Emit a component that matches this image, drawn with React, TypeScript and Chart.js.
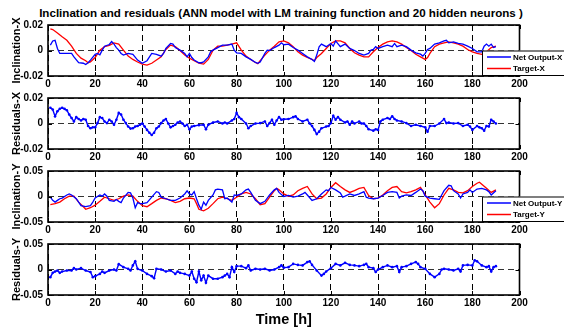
import React, { useEffect, useRef } from "react";
import { Chart, registerables } from "chart.js";

Chart.register(...registerables);

const FONT = "'Liberation Sans', Arial, Helvetica, sans-serif";

const TITLE = "Inclination and residuals (ANN model with LM training function and 20 hidden neurons )";
const X_LABEL = "Time [h]";
const X_TICKS = [0, 20, 40, 60, 80, 100, 120, 140, 160, 180, 200];
const Y_TICKS_X = [-0.02, 0, 0.02];
const Y_TICKS_Y = [-0.05, 0, 0.05];

// Panel 1: Inclination-X
const H_NET_X = [1, 2, 3, 4, 5, 10, 11, 13, 15, 16, 17, 18, 20, 21, 22, 23, 24, 26, 27, 28, 29, 30, 31, 32, 34, 36, 38, 40, 42, 44, 46, 48, 49, 50, 52, 53, 54, 56, 58, 59, 60, 61, 62, 64, 65, 66, 68, 69, 70, 72, 74, 76, 78, 79, 80, 82, 84, 86, 88, 89, 90, 92, 93, 94, 96, 98, 99, 100, 102, 104, 106, 107, 108, 110, 112, 113, 114, 115, 116, 118, 120, 121, 122, 124, 126, 128, 130, 132, 134, 136, 137, 138, 139, 140, 142, 144, 146, 147, 148, 150, 152, 154, 156, 158, 159, 160, 161, 162, 164, 166, 168, 169, 170, 172, 174, 176, 178, 180, 182, 184, 185, 186, 187, 188, 189, 190];
const NET_X = [0.0042, 0.0075, 0.008, 0.0016, -0.0023, -0.0023, -0.005, -0.0096, -0.01, -0.011, -0.0096, -0.0075, -0.003, -0.0023, -0.0034, 0.0003, 0.0034, 0.0047, 0.007, 0.005, 0.0023, 0.0003, -0.0023, -0.0036, -0.0023, -0.003, -0.0075, -0.01, -0.008, -0.0023, -0.003, -0.0044, -0.0023, 0.0016, 0.0055, 0.005, 0.0023, 0.0003, -0.0023, -0.005, -0.0023, -0.0055, -0.0075, -0.0096, -0.0096, -0.009, -0.005, -0.001, 0.0003, 0.0023, 0.0042, 0.0042, 0.005, 0.0003, -0.0018, -0.0023, -0.005, -0.007, -0.0094, -0.01, -0.009, -0.0023, 0.0003, 0, 0.0023, 0.0042, 0.006, 0.0045, 0.005, 0.0023, 0.0003, -0.001, -0.0023, -0.005, -0.007, -0.0086, -0.0036, 0.0029, 0.005, 0.003, 0.0055, 0.0034, 0.0075, 0.003, 0.005, 0.0016, 0, -0.0023, -0.0036, -0.0023, 0.0003, 0.0008, 0.003, 0.0016, 0.003, 0.0042, 0.003, 0.0055, 0.003, 0.0042, 0.003, 0.0003, -0.0018, -0.0029, -0.0044, -0.0023, 0.0008, 0.0016, 0.005, 0.006, 0.0075, 0.008, 0.006, 0.0068, 0.0055, 0.005, 0.0034, 0.0016, -0.001, -0.001, 0.0034, 0.005, 0.0034, 0.005, 0.0023, 0.003];
const H_TGT_X = [1, 2, 4, 6, 8, 10, 12, 14, 16, 17, 18, 20, 22, 24, 26, 28, 30, 32, 34, 36, 38, 40, 42, 44, 46, 48, 50, 52, 54, 56, 58, 60, 62, 64, 66, 68, 70, 72, 74, 76, 78, 80, 82, 84, 86, 88, 89, 90, 92, 94, 96, 98, 100, 102, 104, 106, 108, 110, 112, 113, 114, 116, 118, 120, 122, 124, 126, 128, 130, 132, 134, 136, 138, 140, 142, 144, 146, 148, 150, 152, 154, 156, 158, 160, 161, 162, 164, 166, 168, 170, 172, 174, 176, 178, 180, 182, 184, 186, 188, 190];
const TGT_X = [0.017, 0.0164, 0.0138, 0.0107, 0.008, 0.0034, -0.0023, -0.006, -0.008, -0.0096, -0.009, -0.0055, 0.0003, 0.003, 0.004, 0.006, 0.005, 0.0003, -0.0044, -0.007, -0.009, -0.0107, -0.0114, -0.01, -0.0075, -0.005, 0.0008, 0.0042, 0.003, 0, -0.0036, -0.006, -0.008, -0.01, -0.0107, -0.007, 0.0003, 0.0034, 0.0034, 0.0042, 0.005, 0.006, 0.0003, -0.0044, -0.007, -0.0094, -0.0104, -0.008, -0.0036, 0.0003, 0.0034, 0.0068, 0.0075, 0.006, 0.003, -0.001, -0.0036, -0.0055, -0.007, -0.008, -0.0055, -0.0023, 0.0016, 0.0055, 0.0075, 0.0075, 0.006, 0.0016, -0.0018, -0.0036, -0.005, -0.005, -0.001, 0.0023, 0.005, 0.0068, 0.0075, 0.0068, 0.005, 0.0023, 0, -0.0029, -0.005, -0.007, -0.0055, -0.0023, 0.003, 0.005, 0.006, 0.0068, 0.006, 0.005, 0.0034, 0.0008, -0.001, -0.0023, -0.003, -0.001, 0.0023, 0.0034];

// Panel 2: Residuals-X
const H_RES_X = [1, 2, 3, 4, 5, 6, 7, 8, 9, 10, 11, 12, 13, 14, 15, 16, 17, 18, 19, 20, 21, 22, 23, 24, 25, 26, 27, 28, 29, 30, 31, 32, 33, 34, 35, 36, 37, 38, 39, 40, 41, 42, 43, 44, 45, 46, 47, 48, 49, 50, 51, 52, 53, 54, 55, 56, 57, 58, 59, 60, 61, 62, 64, 66, 67, 68, 70, 72, 74, 75, 76, 78, 79, 80, 81, 82, 84, 85, 86, 88, 90, 92, 93, 94, 95, 96, 97, 98, 99, 100, 102, 104, 105, 106, 108, 110, 111, 112, 113, 114, 115, 116, 118, 119, 120, 121, 122, 123, 124, 126, 127, 128, 129, 130, 132, 133, 134, 135, 136, 138, 139, 140, 141, 142, 144, 145, 146, 147, 148, 150, 152, 154, 156, 158, 160, 161, 162, 164, 166, 168, 169, 170, 172, 174, 176, 178, 179, 180, 182, 183, 184, 185, 186, 187, 188, 189, 190];
const RES_X = [0.0123, 0.011, 0.0056, 0.0096, 0.0115, 0.0123, 0.0115, 0.0104, 0.007, 0.0043, 0.0016, 0.005, 0.0035, 0.0024, 0.0035, 0.003, -0.002, -0.0037, -0.003, -0.003, 0.0003, 0.005, 0.0043, 0.0016, 0.0003, 0.003, 0.0016, -0.001, 0.003, 0.0083, 0.007, 0.003, 0.0003, -0.0024, -0.004, -0.0037, -0.0024, -0.002, -0.001, 0, -0.0024, -0.005, -0.0072, -0.009, -0.0072, -0.0037, -0.0024, 0.0003, 0.0024, 0.0035, 0, -0.003, -0.002, -0.001, 0.0008, 0.0016, 0, -0.002, -0.001, -0.0045, -0.0024, -0.002, -0.0013, -0.001, -0.0045, -0.001, 0.0008, 0.0016, 0, 0.0008, 0, 0.0024, 0.0035, 0.0083, 0.005, 0.0035, 0, -0.0037, -0.002, 0, 0.0003, 0.0016, -0.002, 0.0003, 0.003, -0.001, 0.0024, 0.005, 0.003, 0.0033, 0.0035, 0.005, 0.0056, 0.0035, 0.0016, 0.003, 0, -0.002, -0.005, -0.0083, -0.0064, -0.0037, -0.0024, -0.002, 0.0003, 0.0061, 0.003, 0.005, 0.003, 0.0008, 0.0016, -0.001, 0.0016, 0, 0.0016, 0, 0, -0.002, -0.0045, -0.0056, -0.0045, -0.005, 0.0016, 0.003, 0.0043, 0.0035, 0.0056, 0.0035, 0.0024, 0.0016, 0.0003, -0.002, -0.001, -0.002, -0.003, -0.0064, -0.002, -0.002, 0, 0.0035, 0.0003, 0.0008, 0, 0.0003, -0.002, -0.001, -0.0024, -0.005, -0.002, -0.003, -0.0037, -0.0056, -0.002, -0.0024, 0.003, 0.0016, 0];

// Panel 3: Inclination-Y
const H_NET_Y = [1, 2, 3, 4, 5, 6, 8, 9, 10, 12, 14, 16, 18, 19, 20, 22, 23, 24, 25, 26, 28, 29, 30, 31, 32, 34, 35, 36, 37, 38, 39, 40, 42, 44, 46, 47, 48, 50, 52, 54, 56, 58, 59, 60, 61, 62, 63, 64, 65, 66, 67, 68, 70, 71, 72, 74, 75, 76, 78, 79, 80, 82, 84, 85, 86, 88, 90, 92, 94, 96, 97, 98, 100, 102, 104, 106, 108, 109, 110, 112, 114, 116, 118, 119, 120, 122, 124, 125, 126, 128, 130, 132, 134, 135, 136, 138, 140, 142, 144, 146, 148, 149, 150, 152, 154, 156, 158, 159, 160, 162, 164, 166, 167, 168, 170, 171, 172, 174, 175, 176, 178, 179, 180, 182, 184, 186, 187, 188, 190];
const NET_Y = [-0.0013, -0.0076, -0.011, -0.0076, -0.0044, -0.003, 0.003, 0.005, 0.003, -0.0044, -0.018, -0.02, -0.018, -0.011, -0.003, 0.003, 0.0006, 0.005, 0.0006, -0.0076, -0.0095, -0.006, -0.0095, -0.012, -0.003, 0.008, 0.007, -0.003, -0.022, -0.012, -0.014, -0.014, -0.012, -0.0013, 0.0095, 0.008, -0.0013, -0.0044, -0.0076, -0.0076, -0.003, 0.005, 0.011, 0.005, 0.003, 0.0095, -0.0044, -0.017, -0.025, -0.011, -0.017, -0.0076, 0.003, 0.013, 0.0146, 0.013, -0.0044, -0.003, -0.011, 0.003, 0.002, 0.005, 0.013, 0.0146, 0.008, -0.0076, -0.014, -0.0095, 0.003, 0.013, 0.016, 0.008, 0, 0.002, -0.0013, 0.0006, 0.005, 0.008, 0.003, -0.0076, -0.0044, 0.005, 0.013, 0.0114, 0.0177, 0.013, 0.007, -0.0013, 0.0006, 0.005, 0.002, 0.005, 0.0095, -0.0013, -0.003, -0.0044, -0.003, 0.002, 0.008, 0.0095, 0.008, -0.003, 0.0006, 0.003, 0.002, 0.008, 0.0146, 0.0114, 0.0006, -0.003, -0.0044, -0.0057, 0.003, 0.0114, 0.022, 0.021, 0.0114, 0.005, -0.003, 0.005, 0.008, 0.013, 0.008, 0.0146, 0.016, 0.013, 0.0095, 0.003, 0.0114];
const H_TGT_Y = [1, 3, 5, 7, 9, 11, 13, 15, 16, 18, 20, 22, 24, 26, 28, 30, 32, 34, 36, 38, 40, 42, 44, 46, 48, 50, 52, 54, 56, 58, 60, 62, 63, 64, 66, 68, 70, 72, 74, 76, 78, 80, 82, 84, 86, 88, 90, 92, 94, 96, 97, 98, 100, 102, 104, 106, 108, 110, 112, 114, 116, 118, 120, 122, 124, 126, 128, 130, 132, 134, 136, 138, 140, 142, 144, 146, 148, 150, 152, 154, 156, 158, 160, 162, 164, 166, 168, 170, 172, 174, 176, 178, 180, 182, 183, 184, 186, 188, 190];
const TGT_Y = [-0.016, -0.014, -0.011, -0.0044, 0.0006, 0.0006, -0.011, -0.02, -0.025, -0.022, -0.017, -0.0095, -0.0013, -0.0044, -0.0076, -0.0044, 0.0006, 0.003, 0.0006, -0.0095, -0.018, -0.02, -0.014, -0.0076, -0.003, -0.0044, -0.0076, -0.012, -0.0095, -0.0044, -0.003, -0.0044, -0.014, -0.025, -0.028, -0.023, -0.014, -0.0044, -0.0013, -0.0044, -0.0076, -0.0013, 0.005, 0.008, 0.005, -0.0044, -0.016, -0.014, -0.0013, 0.0114, 0.016, 0.013, 0.005, 0.0006, 0.003, 0.0114, 0.016, 0.0196, 0.005, -0.0044, -0.003, 0.005, 0.0177, 0.027, 0.0196, 0.013, 0.008, 0.0114, 0.016, 0.0177, 0.002, -0.0044, -0.003, 0.003, 0.0114, 0.0177, 0.0196, 0.0095, 0.007, 0.0095, 0.013, 0.0177, 0.003, -0.011, -0.022, -0.014, 0.003, 0.016, 0.013, 0.008, 0.007, 0.0114, 0.0196, 0.026, 0.028, 0.024, 0.016, 0.008, 0.013];

// Panel 4: Residuals-Y
const H_RES_Y = [1, 2, 3, 4, 5, 6, 8, 10, 11, 12, 14, 16, 18, 19, 20, 22, 23, 24, 26, 28, 29, 30, 32, 34, 35, 36, 37, 38, 40, 42, 44, 45, 46, 48, 50, 52, 54, 55, 56, 58, 60, 61, 62, 63, 64, 65, 66, 67, 68, 70, 72, 74, 75, 76, 77, 78, 79, 80, 82, 84, 85, 86, 88, 90, 92, 94, 96, 98, 99, 100, 102, 104, 106, 108, 110, 111, 112, 114, 116, 117, 118, 120, 122, 124, 126, 128, 130, 132, 134, 135, 136, 138, 139, 140, 142, 144, 146, 148, 149, 150, 152, 154, 156, 157, 158, 160, 162, 164, 166, 167, 168, 170, 172, 174, 175, 176, 178, 180, 181, 182, 184, 186, 187, 188, 189, 190];
const RES_Y = [-0.015, -0.0066, -0.004, -0.002, -0.0066, -0.004, -0.002, -0.002, 0.0026, 0, 0.0026, -0.002, -0.005, -0.015, -0.013, -0.0086, -0.004, -0.0066, -0.002, 0, -0.002, 0.0105, 0.0046, 0.0013, -0.002, 0.008, 0.016, 0.0013, -0.002, -0.0086, -0.013, -0.017, 0.0013, 0, -0.004, -0.002, -0.0086, -0.004, -0.0066, -0.0086, -0.012, -0.004, -0.018, -0.025, -0.004, -0.021, -0.012, -0.026, -0.012, -0.018, -0.018, -0.015, -0.012, -0.0086, -0.015, 0.0046, -0.005, 0.0066, 0.0066, 0.0026, 0.008, -0.002, 0.0013, 0, 0.0013, -0.002, 0, 0.0046, 0.008, 0.0036, 0.0046, 0.011, 0.009, 0.008, 0.0145, 0.016, 0.009, -0.002, -0.012, -0.0086, -0.004, 0.0026, 0.011, 0.008, 0.013, 0.009, 0.008, 0.0066, 0.009, 0.011, 0.0046, 0.0026, -0.005, 0, 0.0046, 0.008, 0.0046, 0.0066, -0.005, 0.0046, 0.0066, 0.011, 0.0145, 0.011, 0.0046, 0.0013, -0.0086, -0.015, -0.0086, 0, 0.0013, 0, -0.002, 0.0013, -0.004, 0.008, 0.009, 0.008, 0.018, 0.016, 0.008, 0.0046, 0.0066, -0.004, 0.0046, 0.0066];

const BLUE = "#0000ff";
const RED = "#ff0000";
const W = 564;
const H = 331;
const PLOT_LEFT = 48;
const PLOT_RIGHT = 519.5;
const X_AXIS_H = 16;

type Series = { name: string; hours: number[]; values: number[]; color: string; marker: boolean };
type Panel = { top: number; bottom: number; yTicks: number[]; yLabel: string; series: Series[]; legend: boolean };

const PANELS: Panel[] = [
  { top: 25, bottom: 76, yTicks: Y_TICKS_X, yLabel: "Inclination-X", legend: true, series: [
    { name: "Net Output-X", hours: H_NET_X, values: NET_X, color: BLUE, marker: false },
    { name: "Target-X", hours: H_TGT_X, values: TGT_X, color: RED, marker: false },
  ] },
  { top: 98, bottom: 149, yTicks: Y_TICKS_X, yLabel: "Residuals-X", legend: false, series: [
    { name: "Residuals-X", hours: H_RES_X, values: RES_X, color: BLUE, marker: true },
  ] },
  { top: 171, bottom: 222, yTicks: Y_TICKS_Y, yLabel: "Inclination-Y", legend: true, series: [
    { name: "Net Output-Y", hours: H_NET_Y, values: NET_Y, color: BLUE, marker: false },
    { name: "Target-Y", hours: H_TGT_Y, values: TGT_Y, color: RED, marker: false },
  ] },
  { top: 244, bottom: 295, yTicks: Y_TICKS_Y, yLabel: "Residuals-Y", legend: false, series: [
    { name: "Residuals-Y", hours: H_RES_Y, values: RES_Y, color: BLUE, marker: true },
  ] },
];

function fmt(v: number) {
  if (v === 0) return "0";
  return v.toFixed(2);
}

function makeFramePlugin(panel: Panel, idx: number) {
  return {
    id: "frame" + idx,
    afterDatasetsDraw(chart: any) {
      const { ctx, chartArea: a } = chart;
      const xs = chart.scales.x;
      const ys = chart.scales.y;
      ctx.save();
      ctx.setLineDash([]);
      ctx.strokeStyle = "#000";
      ctx.lineWidth = 1;
      for (const t of X_TICKS) {
        const px = Math.round(xs.getPixelForValue(t)) + 0.5;
        ctx.beginPath();
        ctx.moveTo(px, a.bottom);
        ctx.lineTo(px, a.bottom - 4);
        ctx.moveTo(px, a.top);
        ctx.lineTo(px, a.top + 4);
        ctx.stroke();
      }
      for (const t of panel.yTicks) {
        const py = Math.round(ys.getPixelForValue(t)) + 0.5;
        ctx.beginPath();
        ctx.moveTo(a.left, py);
        ctx.lineTo(a.left + 4, py);
        ctx.moveTo(a.right, py);
        ctx.lineTo(a.right - 4, py);
        ctx.stroke();
      }
      ctx.lineWidth = 1.6;
      ctx.strokeRect(a.left, a.top, a.right - a.left, a.bottom - a.top);

      if (panel.legend) {
        const bx = 482;
        const bh = 24.5;
        const by = a.bottom - 1 - bh;
        ctx.fillStyle = "#fff";
        ctx.fillRect(bx, by, 90, bh);
        ctx.lineWidth = 1;
        ctx.strokeStyle = "#000";
        ctx.strokeRect(bx + 0.5, by + 0.5, 90, bh);
        ctx.font = "bold 8px " + FONT;
        ctx.textBaseline = "middle";
        ctx.textAlign = "left";
        panel.series.forEach((s, i) => {
          const ry = by + 6.5 + i * 11.5;
          ctx.strokeStyle = s.color;
          ctx.lineWidth = 1.5;
          ctx.beginPath();
          ctx.moveTo(487, ry);
          ctx.lineTo(511, ry);
          ctx.stroke();
          ctx.fillStyle = "#000";
          ctx.fillText(s.name, 513, ry + 0.5);
        });
      }
      ctx.restore();
    },
  };
}

function PanelChart({ panel, idx }: { panel: Panel; idx: number }) {
  const ref = useRef<HTMLCanvasElement | null>(null);
  useEffect(() => {
    if (!ref.current) return;
    const yMax = panel.yTicks[panel.yTicks.length - 1];
    const yMin = panel.yTicks[0];
    const chart = new Chart(ref.current, {
      type: "line",
      data: {
        datasets: panel.series.map((s) => ({
          label: s.name,
          data: s.hours.map((h, i) => ({ x: h, y: s.values[i] })),
          borderColor: s.color,
          backgroundColor: s.color,
          borderWidth: s.marker ? 1.4 : 1.3,
          pointRadius: s.marker ? 1.3 : 0,
          pointBorderWidth: 0,
          pointHoverRadius: 0,
          tension: 0,
        })),
      },
      options: {
        responsive: false,
        animation: false,
        devicePixelRatio: 1,
        events: [],
        layout: { padding: { left: 0, right: W - PLOT_RIGHT, top: panel.top, bottom: H - panel.bottom - X_AXIS_H } },
        plugins: { legend: { display: false }, tooltip: { enabled: false }, title: { display: false } },
        scales: {
          x: {
            type: "linear",
            min: 0,
            max: 200,
            afterFit: (s: any) => { s.height = X_AXIS_H; },
            afterBuildTicks: (s: any) => { s.ticks = X_TICKS.map((v) => ({ value: v })); },
            grid: { color: "#000", lineWidth: 1, drawTicks: false },
            border: { display: false, dash: [6, 4] },
            ticks: {
              autoSkip: false,
              maxRotation: 0,
              padding: 2,
              color: "#000",
              font: { family: FONT, size: 10, weight: "bold" },
              callback: (v: any) => String(v),
            },
          },
          y: {
            type: "linear",
            min: yMin,
            max: yMax,
            afterFit: (s: any) => { s.width = PLOT_LEFT; },
            afterBuildTicks: (s: any) => { s.ticks = panel.yTicks.map((v) => ({ value: v })); },
            grid: { color: "#333", lineWidth: 1, drawTicks: false },
            border: { display: false, dash: [6, 4] },
            ticks: {
              padding: 5,
              color: "#000",
              font: { family: FONT, size: 10, weight: "bold" },
              callback: (v: any) => fmt(Number(v)),
            },
            title: {
              display: true,
              text: panel.yLabel,
              color: "#000",
              font: { family: FONT, size: 11, weight: "bold" },
              padding: { top: 10, bottom: 0 },
            },
          },
        },
      },
      plugins: [makeFramePlugin(panel, idx)],
    } as any);
    return () => chart.destroy();
  }, [panel, idx]);
  return (
    <canvas
      ref={ref}
      width={W}
      height={H}
      style={{ position: "absolute", left: 0, top: 0, width: W, height: H }}
    />
  );
}

export default function App() {
  return (
    <div style={{ position: "fixed", left: 0, top: 0, width: W, height: H, background: "#fff", overflow: "hidden" }}>
      <div
        style={{
          position: "absolute",
          left: 0,
          width: 562,
          top: 6,
          textAlign: "center",
          font: "bold 11.6px " + FONT,
          color: "#000",
          whiteSpace: "nowrap",
          lineHeight: "14px",
        }}
      >
        {TITLE}
      </div>
      {PANELS.map((p, i) => (
        <PanelChart key={i} panel={p} idx={i} />
      ))}
      <div
        style={{
          position: "absolute",
          left: 0,
          width: PLOT_LEFT + PLOT_RIGHT,
          top: 310,
          textAlign: "center",
          font: "bold 14.5px " + FONT,
          color: "#000",
          lineHeight: "18px",
        }}
      >
        {X_LABEL}
      </div>
    </div>
  );
}
